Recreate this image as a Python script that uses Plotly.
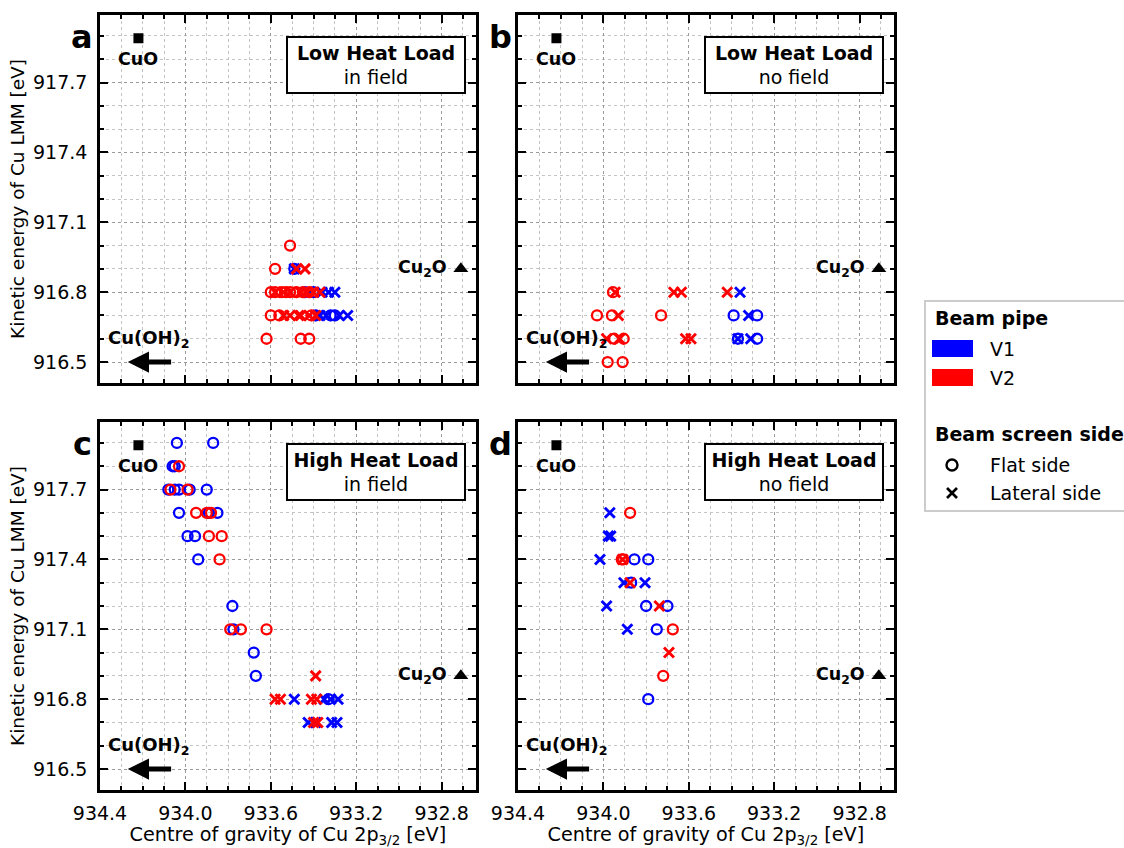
import plotly.graph_objects as go

# ---------------- data ----------------
# Panel a: Low Heat Load, in field
a_v1_flat_x = [933.49, 933.44, 933.40, 933.39, 933.32, 933.30]
a_v1_flat_y = [916.9, 916.8, 916.8, 916.7, 916.7, 916.7]
a_v1_lat_x = [933.49, 933.36, 933.33, 933.30, 933.37, 933.34, 933.28, 933.24]
a_v1_lat_y = [916.9, 916.8, 916.8, 916.8, 916.7, 916.7, 916.7, 916.7]
a_v2_flat_x = [933.51, 933.58, 933.60, 933.58, 933.55, 933.53, 933.51, 933.48, 933.45, 933.42,
               933.60, 933.56, 933.41, 933.62, 933.46, 933.42]
a_v2_flat_y = [917.0, 916.9, 916.8, 916.8, 916.8, 916.8, 916.8, 916.8, 916.8, 916.8,
               916.7, 916.7, 916.7, 916.6, 916.6, 916.6]
a_v2_lat_x = [933.48, 933.44, 933.58, 933.54, 933.51, 933.46, 933.43, 933.40, 933.37,
              933.54, 933.51, 933.47, 933.46, 933.42, 933.39]
a_v2_lat_y = [916.9, 916.9, 916.8, 916.8, 916.8, 916.8, 916.8, 916.8, 916.8,
              916.7, 916.7, 916.7, 916.7, 916.7, 916.7]

# Panel b: Low Heat Load, no field
b_v1_flat_x = [933.39, 933.28, 933.37, 933.28]
b_v1_flat_y = [916.7, 916.7, 916.6, 916.6]
b_v1_lat_x = [933.36, 933.32, 933.37, 933.31]
b_v1_lat_y = [916.8, 916.7, 916.6, 916.6]
b_v2_flat_x = [933.955, 934.03, 933.96, 933.73, 933.95, 933.905, 933.98, 933.91]
b_v2_flat_y = [916.8, 916.7, 916.7, 916.7, 916.6, 916.6, 916.5, 916.5]
b_v2_lat_x = [933.945, 933.67, 933.635, 933.42, 933.93, 933.985, 933.925, 933.615, 933.59]
b_v2_lat_y = [916.8, 916.8, 916.8, 916.8, 916.7, 916.6, 916.6, 916.6, 916.6]

# Panel c: High Heat Load, in field
c_v1_flat_x = [934.04, 933.87, 934.06, 934.05, 934.08, 934.05, 934.03, 933.98, 933.90, 934.03,
               933.89, 933.85, 933.99, 933.955, 933.94, 933.78, 933.775, 933.68, 933.67, 933.33]
c_v1_flat_y = [917.9, 917.9, 917.8, 917.8, 917.7, 917.7, 917.7, 917.7, 917.7, 917.6,
               917.6, 917.6, 917.5, 917.5, 917.4, 917.2, 917.1, 917.0, 916.9, 916.8]
c_v1_lat_x = [933.49, 933.35, 933.32, 933.285, 933.425, 933.39, 933.315, 933.29]
c_v1_lat_y = [916.8, 916.8, 916.8, 916.8, 916.7, 916.7, 916.7, 916.7]
c_v2_flat_x = [934.03, 934.07, 933.99, 933.95, 933.90, 933.88, 933.89, 933.83, 933.84,
               933.79, 933.74, 933.62]
c_v2_flat_y = [917.8, 917.7, 917.7, 917.6, 917.6, 917.6, 917.5, 917.5, 917.4,
               917.1, 917.1, 917.1]
c_v2_lat_x = [933.39, 933.58, 933.555, 933.41, 933.385, 933.40, 933.38]
c_v2_lat_y = [916.9, 916.8, 916.8, 916.8, 916.8, 916.7, 916.7]

# Panel d: High Heat Load, no field
d_v1_flat_x = [933.855, 933.79, 933.87, 933.80, 933.70, 933.75, 933.79]
d_v1_flat_y = [917.4, 917.4, 917.3, 917.2, 917.2, 917.1, 916.8]
d_v1_lat_x = [933.97, 933.977, 933.966, 934.016, 933.904, 933.805, 933.985, 933.888]
d_v1_lat_y = [917.6, 917.5, 917.5, 917.4, 917.3, 917.3, 917.2, 917.1]
d_v2_flat_x = [933.875, 933.914, 933.907, 933.675, 933.72]
d_v2_flat_y = [917.6, 917.4, 917.4, 917.1, 916.9]
d_v2_lat_x = [933.91, 933.875, 933.738, 933.693]
d_v2_lat_y = [917.4, 917.3, 917.2, 917.0]

# reference compounds
cuo_x, cuo_y = 934.22, 917.89
cu2o_x, cu2o_y = 932.71, 916.9
cuoh2_head_x, cuoh2_tail_x, cuoh2_y = 934.27, 934.06, 916.5

panel_letters = ["a", "b", "c", "d"]
panel_titles = ["Low Heat Load", "Low Heat Load", "High Heat Load", "High Heat Load"]
panel_subtitles = ["in field", "no field", "in field", "no field"]

x_range = [934.4, 932.64]
y_range = [916.41, 917.99]

FONT = "DejaVu Sans"
BLUE = "#0000ff"
RED = "#ff0000"
W, H = 1124, 848

panels = [
    (a_v1_flat_x, a_v1_flat_y, a_v1_lat_x, a_v1_lat_y, a_v2_flat_x, a_v2_flat_y, a_v2_lat_x, a_v2_lat_y),
    (b_v1_flat_x, b_v1_flat_y, b_v1_lat_x, b_v1_lat_y, b_v2_flat_x, b_v2_flat_y, b_v2_lat_x, b_v2_lat_y),
    (c_v1_flat_x, c_v1_flat_y, c_v1_lat_x, c_v1_lat_y, c_v2_flat_x, c_v2_flat_y, c_v2_lat_x, c_v2_lat_y),
    (d_v1_flat_x, d_v1_flat_y, d_v1_lat_x, d_v1_lat_y, d_v2_flat_x, d_v2_flat_y, d_v2_lat_x, d_v2_lat_y),
]

# pixel layout of panels (left, right, top, bottom)
px_boxes = [(100, 475.8, 15, 383), (518, 893.8, 15, 383),
            (100, 475.8, 422, 790), (518, 893.8, 422, 790)]

fig = go.Figure()

circle = dict(symbol="circle-open", size=10, line=dict(width=2.3))
cross = dict(symbol="x-thin-open", size=10, line=dict(width=2.9))

for i, (v1fx, v1fy, v1lx, v1ly, v2fx, v2fy, v2lx, v2ly) in enumerate(panels):
    xa = "x" if i == 0 else f"x{i+1}"
    ya = "y" if i == 0 else f"y{i+1}"
    for xs, ys, col, mk in [(v1fx, v1fy, BLUE, circle), (v1lx, v1ly, BLUE, cross),
                            (v2fx, v2fy, RED, circle), (v2lx, v2ly, RED, cross)]:
        m = dict(mk)
        m["color"] = col
        m["line"] = dict(mk["line"], color=col)
        fig.add_trace(go.Scatter(x=xs, y=ys, mode="markers", marker=m,
                                 xaxis=xa, yaxis=ya, showlegend=False, hoverinfo="skip"))
    # CuO square
    fig.add_trace(go.Scatter(x=[cuo_x], y=[cuo_y], mode="markers",
                             marker=dict(symbol="square", size=10, color="black"),
                             xaxis=xa, yaxis=ya, showlegend=False, hoverinfo="skip"))
    # Cu2O triangle
    fig.add_trace(go.Scatter(x=[cu2o_x], y=[cu2o_y], mode="markers",
                             marker=dict(symbol="triangle-up", size=13, color="black"),
                             xaxis=xa, yaxis=ya, showlegend=False, hoverinfo="skip"))

annotations = []
shapes = []
layout_axes = {}
for i in range(4):
    l, r, t, b = px_boxes[i]
    xd = [l / W, r / W]
    yd = [(H - b) / H, (H - t) / H]
    xname = "xaxis" if i == 0 else f"xaxis{i+1}"
    yname = "yaxis" if i == 0 else f"yaxis{i+1}"
    xa = "x" if i == 0 else f"x{i+1}"
    ya = "y" if i == 0 else f"y{i+1}"
    bottom = i >= 2
    left = i % 2 == 0
    common = dict(showline=True, linewidth=2.6, linecolor="black", mirror="allticks",
                  ticks="inside", ticklen=8, tickwidth=2.4, tickcolor="black",
                  showgrid=True, gridcolor="#9a9a9a", griddash="dot", gridwidth=1,
                  zeroline=False, tickfont=dict(family=FONT, size=19, color="black"),
                  tickformat=".1f", automargin=False)
    layout_axes[xname] = dict(common, domain=xd, range=x_range, anchor=ya,
                              tick0=934.4, dtick=0.4, showticklabels=bottom,
                              minor=dict(tick0=934.4, dtick=0.1, ticks="inside", ticklen=4,
                                         tickwidth=1.5, tickcolor="black", showgrid=True,
                                         gridcolor="#c4c4c4", griddash="dot", gridwidth=1),
                              ticklabelstandoff=4,
                              title=dict(text="Centre of gravity of Cu 2p<sub>3/2</sub> [eV]" if bottom else "",
                                         font=dict(family=FONT, size=19.2, color="black"), standoff=8))
    layout_axes[yname] = dict(common, domain=yd, range=y_range, anchor=xa,
                              tick0=916.5, dtick=0.3, showticklabels=left,
                              minor=dict(tick0=916.5, dtick=0.1, ticks="inside", ticklen=4,
                                         tickwidth=1.5, tickcolor="black", showgrid=True,
                                         gridcolor="#c4c4c4", griddash="dot", gridwidth=1),
                              ticklabelstandoff=6,
                              title=dict(text="Kinetic energy of Cu LMM [eV]" if left else "",
                                         font=dict(family=FONT, size=18.5, color="black"), standoff=4))
    # panel letter
    annotations.append(dict(xref="paper", yref="paper", x=(l - 18) / W, y=(H - (t + 22)) / H,
                            text=f"<b>{panel_letters[i]}</b>", showarrow=False,
                            font=dict(family=FONT, size=32, color="black"),
                            xanchor="center", yanchor="middle"))
    # box label
    annotations.append(dict(xref="paper", yref="paper", x=(l + 276) / W, y=(H - (t + 50)) / H,
                            text=f"<b>{panel_titles[i]}</b><br>{panel_subtitles[i]}",
                            showarrow=False, font=dict(family=FONT, size=19, color="black"),
                            bordercolor="black", borderwidth=2, borderpad=3, bgcolor="white",
                            width=170, height=48, align="center",
                            xanchor="center", yanchor="middle"))
    # CuO label
    annotations.append(dict(xref=xa, yref=ya, x=cuo_x, y=cuo_y, yshift=-21,
                            text="<b>CuO</b>", showarrow=False,
                            font=dict(family=FONT, size=17.5, color="black"),
                            xanchor="center", yanchor="middle"))
    # Cu2O label
    annotations.append(dict(xref=xa, yref=ya, x=cu2o_x, y=cu2o_y, xshift=-12,
                            text="<b>Cu<sub>2</sub>O</b>", showarrow=False,
                            font=dict(family=FONT, size=17.5, color="black"),
                            xanchor="right", yanchor="middle"))
    # Cu(OH)2 label
    annotations.append(dict(xref=xa, yref=ya, x=934.17, y=916.6,
                            text="<b>Cu(OH)<sub>2</sub></b>", showarrow=False,
                            font=dict(family=FONT, size=18, color="black"),
                            xanchor="center", yanchor="middle"))
    # Cu(OH)2 arrow
    annotations.append(dict(xref=xa, yref=ya, x=cuoh2_head_x, y=cuoh2_y,
                            axref=xa, ayref=ya, ax=cuoh2_tail_x, ay=cuoh2_y,
                            text="", showarrow=True, arrowhead=2, arrowsize=0.85,
                            arrowwidth=5, arrowcolor="black"))

# ---- manual legend ----
def px_x(v):
    return v / W

def px_y(v):
    return (H - v) / H

shapes.append(dict(type="rect", xref="paper", yref="paper",
                   x0=px_x(925), x1=px_x(1130), y0=px_y(511), y1=px_y(301),
                   line=dict(color="#cccccc", width=2), fillcolor="white", layer="below"))
shapes.append(dict(type="rect", xref="paper", yref="paper",
                   x0=px_x(932), x1=px_x(973), y0=px_y(357), y1=px_y(340),
                   line=dict(width=0), fillcolor=BLUE))
shapes.append(dict(type="rect", xref="paper", yref="paper",
                   x0=px_x(932), x1=px_x(973), y0=px_y(386), y1=px_y(369),
                   line=dict(width=0), fillcolor=RED))
shapes.append(dict(type="circle", xref="paper", yref="paper",
                   xsizemode="pixel", ysizemode="pixel",
                   xanchor=px_x(952), yanchor=px_y(465), x0=-5.5, x1=5.5, y0=-5.5, y1=5.5,
                   line=dict(color="black", width=2.4)))
for sx in (1, -1):
    shapes.append(dict(type="line", xref="paper", yref="paper",
                       xsizemode="pixel", ysizemode="pixel",
                       xanchor=px_x(952), yanchor=px_y(493), x0=-5, x1=5, y0=-5 * sx, y1=5 * sx,
                       line=dict(color="black", width=2.6)))

legend_texts = [("<b>Beam pipe</b>", 933, 318), ("V1", 988, 349), ("V2", 988, 378),
                ("<b>Beam screen side</b>", 933, 434), ("Flat side", 988, 465),
                ("Lateral side", 988, 493)]
for txt, lx, ly in legend_texts:
    annotations.append(dict(xref="paper", yref="paper", x=px_x(lx), y=px_y(ly), text=txt,
                            showarrow=False, xanchor="left", yanchor="middle",
                            font=dict(family=FONT, size=19, color="black")))

fig.update_layout(width=W, height=H, margin=dict(l=0, r=0, t=0, b=0, autoexpand=False),
                  paper_bgcolor="white", plot_bgcolor="white",
                  font=dict(family=FONT, color="black"),
                  annotations=annotations, shapes=shapes, showlegend=False,
                  **layout_axes)

fig.write_html("out.html")
